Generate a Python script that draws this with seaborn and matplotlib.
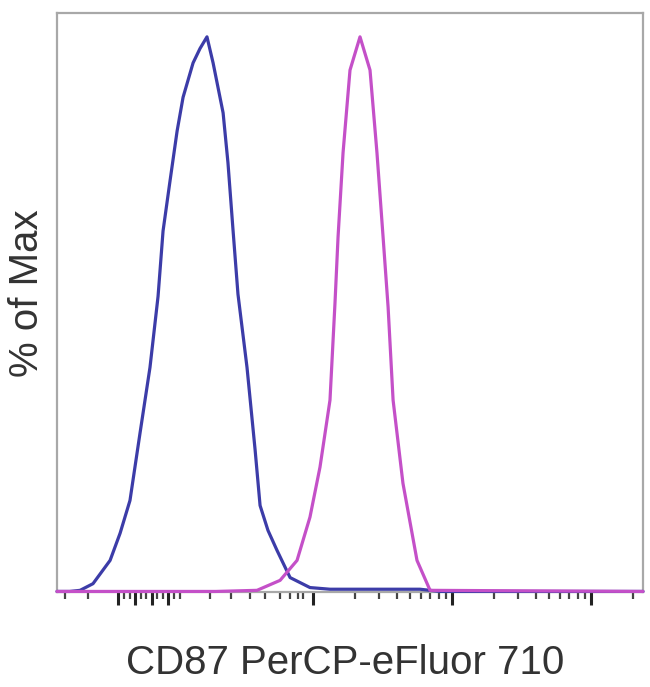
import numpy as np
import pandas as pd
import matplotlib
matplotlib.use("Agg")
import matplotlib.pyplot as plt
import seaborn as sns

# ---- data (log10 fluorescence, % of max) ----
blue_x = [1.158, 1.25, 1.324, 1.417, 1.540, 1.612, 1.683, 1.755, 1.827, 1.885, 1.921, 1.971,
          2.022, 2.065, 2.137, 2.187, 2.237, 2.281, 2.353, 2.388, 2.424, 2.460, 2.525,
          2.583, 2.619, 2.676, 2.741, 2.835, 2.978, 3.122, 3.500, 3.770, 3.914, 5.374]
blue_y = [0.0, 0.0, 0.2, 1.4, 5.6, 10.5, 16.4, 28.5, 40.4, 53.2, 65.0, 74.0,
          83.0, 89.1, 95.3, 97.9, 100.0, 95.3, 86.3, 77.3, 65.3, 53.6, 40.4,
          25.6, 15.5, 11.0, 7.4, 2.5, 0.7, 0.4, 0.4, 0.4, 0.0, 0.0]

mag_x = [1.158, 2.300, 2.597, 2.763, 2.885, 2.978, 3.050, 3.122, 3.158, 3.180, 3.216,
         3.266, 3.338, 3.410, 3.460, 3.504, 3.540, 3.576, 3.647, 3.748, 3.842, 5.374]
mag_y = [0.0, 0.0, 0.2, 2.0, 5.6, 13.4, 22.4, 34.5, 52.0, 63.9, 79.1,
         94.0, 100.0, 94.0, 79.1, 63.9, 51.3, 34.5, 19.5, 5.6, 0.2, 0.0]

series_names = ["control", "CD87"]
x_label = "CD87 PerCP-eFluor 710"
y_label = "% of Max"

df = pd.concat([
    pd.DataFrame({"x": blue_x, "y": blue_y, "s": series_names[0]}),
    pd.DataFrame({"x": mag_x, "y": mag_y, "s": series_names[1]}),
])

sns.set_theme(style="white")
plt.rcParams["font.family"] = ["Liberation Sans", "DejaVu Sans"]

fig = plt.figure(figsize=(6.5, 6.87), dpi=100)
ax = fig.add_axes([57 / 650, 1 - 592 / 687, 586 / 650, 579 / 687])

palette = {series_names[0]: "#3c3ca8", series_names[1]: "#c450c8"}
sns.lineplot(data=df, x="x", y="y", hue="s", hue_order=series_names, palette=palette,
             sort=False, estimator=None, linewidth=2.3, legend=False, ax=ax)
for ln in ax.lines:
    ln.set_clip_on(False)
    ln.set_zorder(3)

ax.set_xlim(1.158, 5.374)
ax.set_ylim(-0.1, 104.3)

for sp in ax.spines.values():
    sp.set_color("#a8a8a8")
    sp.set_linewidth(1.6)

# ticks (biexponential style axis, no labels)
major = [3, 4, 5]
minor = [1.216, 1.381, 2.259, 2.410, 2.547, 2.655, 2.763, 2.835, 2.892, 2.928]
for d in (3, 4):
    minor += [d + np.log10(k) for k in range(2, 10)]
minor += [5 + np.log10(2)]
cluster = [1.60, 1.64, 1.68, 1.72, 1.76, 1.80, 1.84, 1.88, 1.92, 1.96, 2.00, 2.04]
ax.set_xticks(major + cluster[::3])
ax.set_xticks(minor + [c for i, c in enumerate(cluster) if i % 3], minor=True)
ax.set_xticklabels([])
ax.set_yticks([])
ax.tick_params(axis="x", which="major", direction="out", length=9, width=2.2,
               color="#222222", bottom=True)
ax.tick_params(axis="x", which="minor", direction="out", length=5, width=1.6,
               color="#444444", bottom=True)

ax.set_xlabel(x_label, fontsize=29, color="#333333")
ax.xaxis.label.set_va("center")
ax.xaxis.set_label_coords(0.491, -0.1226)
ax.set_ylabel(y_label, fontsize=29, color="#333333")
ax.yaxis.label.set_va("center")
ax.yaxis.set_label_coords(-0.051, 0.516)

fig.savefig("out.png", dpi=100)
